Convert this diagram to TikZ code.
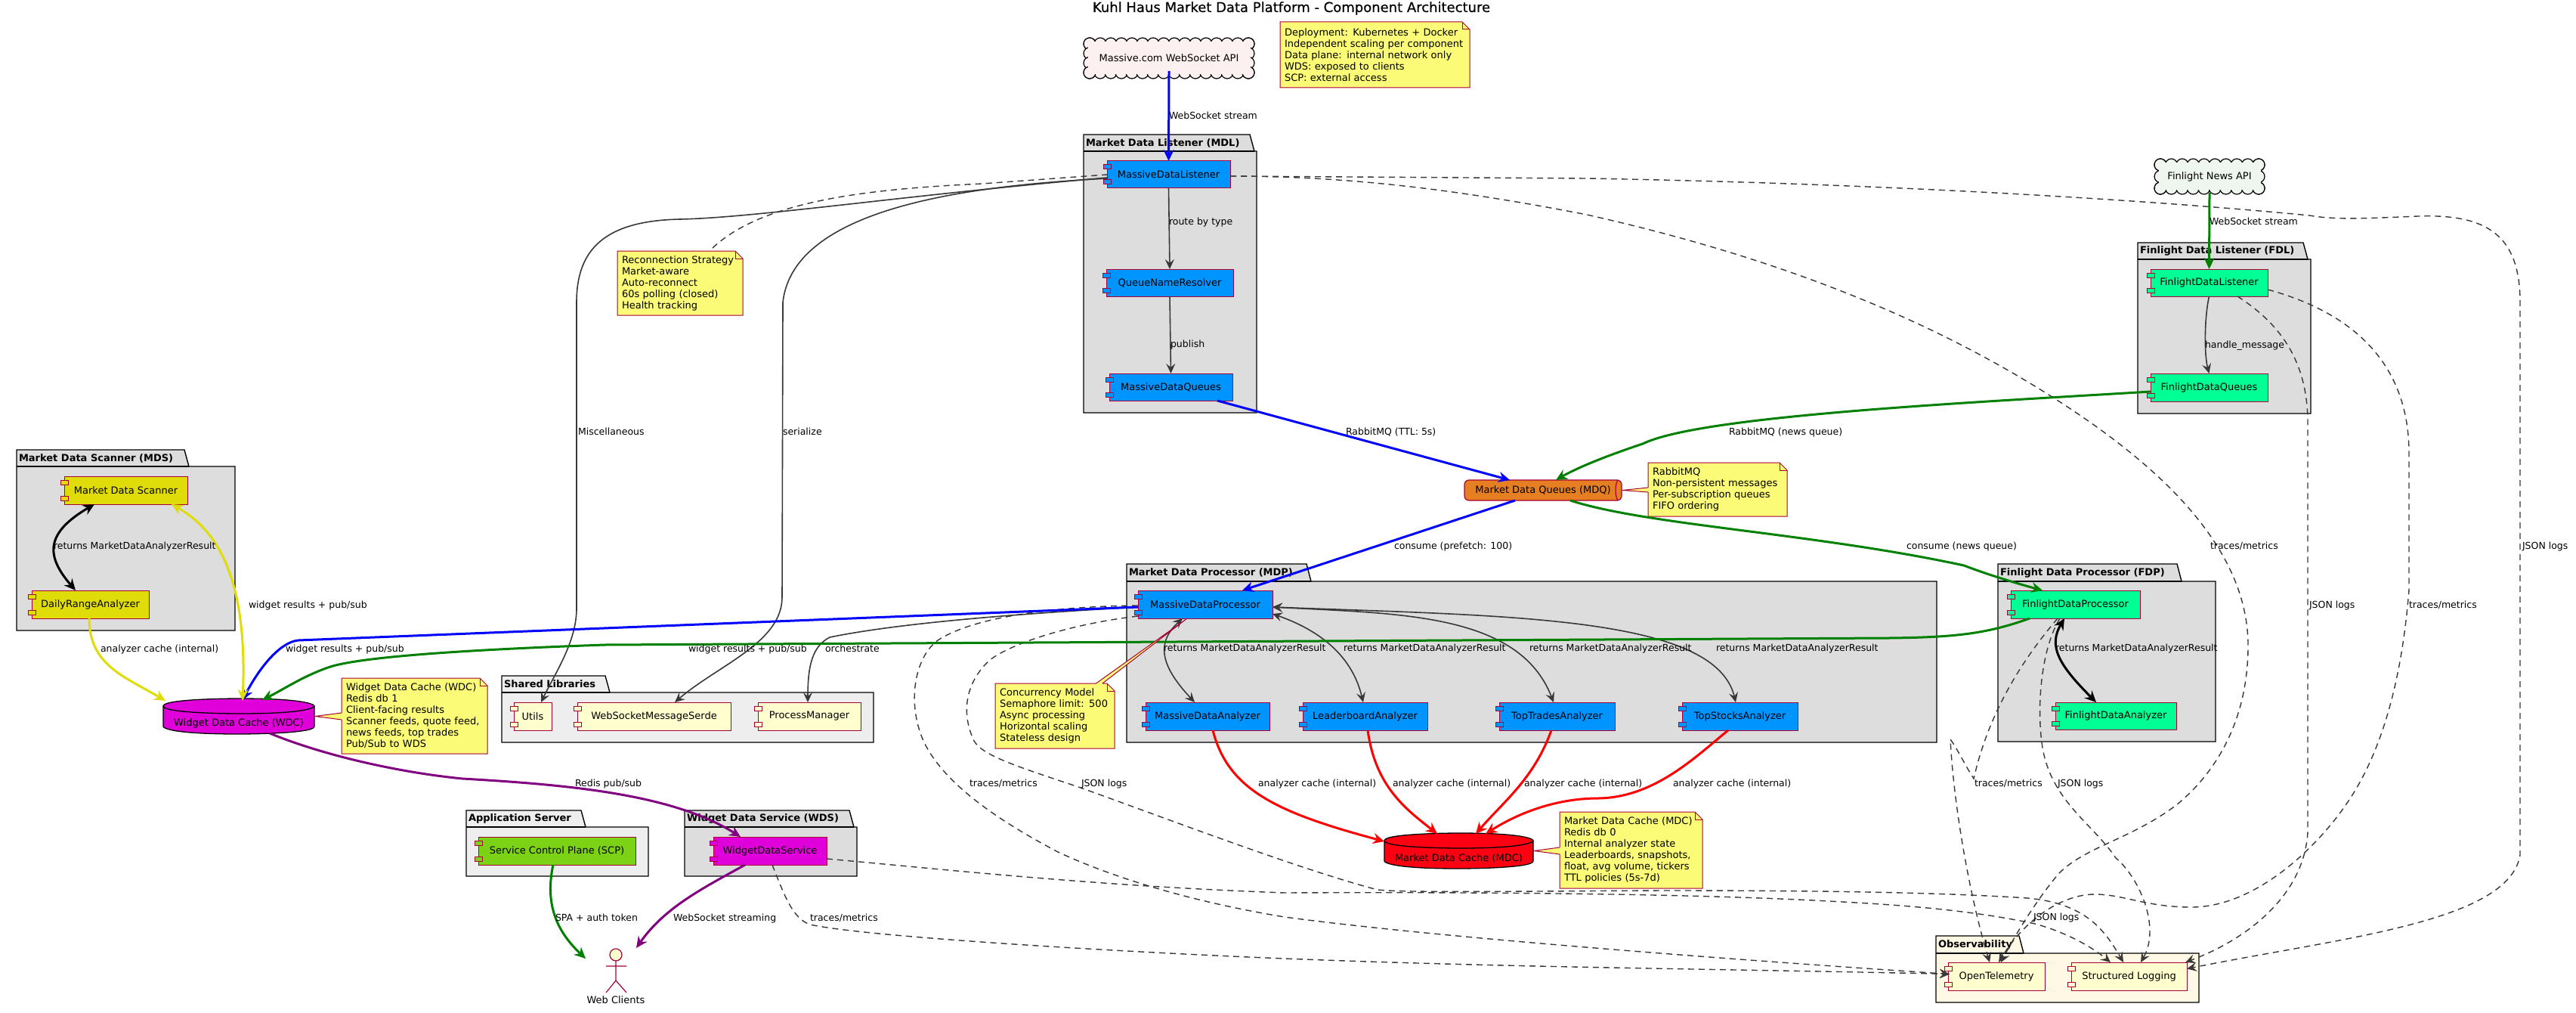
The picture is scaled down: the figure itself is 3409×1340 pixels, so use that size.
\documentclass[tikz,border=0pt]{standalone}
\usepackage{fontspec}
\setmainfont{DejaVu Sans}
\newfontfamily\titlefont{DejaVu Sans}[FakeBold=0.5]
\usetikzlibrary{calc,arrows.meta}
\definecolor{cborder}{HTML}{A80036}
\definecolor{cdark}{HTML}{383838}
\definecolor{cnote}{HTML}{FBFB77}
\definecolor{cdefault}{HTML}{FEFECE}
\definecolor{cblue}{HTML}{0094FF}
\definecolor{cmint}{HTML}{00FF94}
\definecolor{cmag}{HTML}{E000DA}
\definecolor{cyel}{HTML}{E0DC0A}
\definecolor{cgrn}{HTML}{7CD316}
\definecolor{corange}{HTML}{E67E22}
\definecolor{cred}{HTML}{FF0013}
\definecolor{cpkg}{HTML}{DDDDDD}
\definecolor{cpkgl}{HTML}{EEEEEE}
\definecolor{cobs}{HTML}{FEF8E5}
\definecolor{lgreen}{HTML}{008000}
\definecolor{lpurple}{HTML}{800080}
\definecolor{lred}{HTML}{FF0000}
\definecolor{lyel}{HTML}{E0DC0A}
\definecolor{cloudm}{HTML}{FDF0F0}
\definecolor{cloudf}{HTML}{EFF5EF}
\tikzset{
  every node/.style={inner sep=0pt,outer sep=0pt,font=\fontsize{13}{15}\selectfont},
  ah/.tip={Stealth[length=15pt,width=14pt,inset=5pt]},
  ahs/.tip={Stealth[length=13pt,width=12pt,inset=5pt]},
  compbox/.style={draw=cborder,line width=1pt},
  portbox/.style={draw=cborder,line width=1pt},
  notepath/.style={draw=cborder,fill=cnote,line width=1pt},
  notetext/.style={align=left,inner xsep=6pt},
  pkgpath/.style={draw=black,line width=1.4pt},
  pkgtitle/.style={anchor=west,font=\fontsize{13}{15}\selectfont\bfseries},
  lbl/.style={anchor=west,text height=10pt,text depth=3pt,font=\fontsize{12.5}{15}\selectfont},
  thinline/.style={draw=cdark,line width=1.6pt,-{ahs}},
  dashline/.style={draw=cdark,line width=1.4pt,dash pattern=on 8pt off 6pt,-{ahs}},
  heavy/.style={line width=3pt,-{ah}},
  heavyboth/.style={line width=3pt,{ah}-{ah}},
  thinboth/.style={draw=cdark,line width=1.6pt,{ahs}-{ahs}},
}
\newcommand{\comp}[7]{% name x0 y0 x1 y1 fill text
  \node[compbox,fill=#6,minimum width={(#4-#2)*1pt},minimum height={(#5-#3)*1pt}] (#1) at ({(#2+#4)/2},{(#3+#5)/2}) {#7};
  \path[portbox,fill=#6] ({#2-5},{#3+5}) rectangle ({#2+5},{#3+11});
  \path[portbox,fill=#6] ({#2-5},{#5-11}) rectangle ({#2+5},{#5-5});
}
\newcommand{\notebox}[6]{% name x0 y0 x1 y1 text
  \path[notepath] (#2,#3) -- ({#4-10},#3) -- (#4,{#3+10}) -- (#4,#5) -- (#2,#5) -- cycle;
  \draw[draw=cborder,line width=1pt] ({#4-10},#3) -- ({#4-10},{#3+10}) -- (#4,{#3+10});
  \node[notetext,text width={(#4-#2-12)*1pt},minimum height={(#5-#3)*1pt}] (#1) at ({(#2+#4)/2},{(#3+#5)/2}) {#6};
}
\newcommand{\pkgbox}[9]{% name x0 ytab ybody x1 ybot tabx fill title
  \path[pkgpath,fill=#8] (#2,#3) -- (#7,#3) -- ({#7+6},#4) -- (#5,#4) -- (#5,#6) -- (#2,#6) -- cycle;
  \draw[pkgpath] (#2,#4) -- ({#7+6},#4);
  \node[pkgtitle] (#1) at ({#2+3},{(#3+#4)/2}) {#9};
}
\newcommand{\dbcyl}[7]{% name x0 y0 x1 y1 fill text
  \path[draw=black,line width=1.3pt,fill=#6] (#2,{#3+10}) .. controls (#2,#3) and ({(#2+#4)/2},#3) .. ({(#2+#4)/2},#3)
     .. controls (#4,#3) and (#4,{#3+10}) .. (#4,{#3+10}) -- (#4,{#5-10})
     .. controls (#4,#5) and ({(#2+#4)/2},#5) .. ({(#2+#4)/2},#5)
     .. controls (#2,#5) and (#2,{#5-10}) .. (#2,{#5-10}) -- cycle;
  \draw[black,line width=1.3pt] (#2,{#3+10}) .. controls (#2,{#3+20}) and ({(#2+#4)/2},{#3+20}) .. ({(#2+#4)/2},{#3+20})
     .. controls (#4,{#3+20}) and (#4,{#3+10}) .. (#4,{#3+10});
  \node[minimum width={(#4-#2)*1pt},minimum height={(#5-#3)*1pt}] (#1) at ({(#2+#4)/2},{(#3+#5)/2}) {};
  \node (#1t) at ({(#2+#4)/2},{#5-14}) {#7};
}
\newcommand{\notetail}[3]{% tip, base1, base2
  \path[fill=cnote] #1 -- #2 -- #3 -- cycle;
  \draw[cnote,line width=1.6pt] #2 -- #3;
  \draw[cborder,line width=1pt] #2 -- #1 -- #3;
}
\newcommand{\cloudnode}[7]{% name x0 y0 x1 y1 fill text
  \pgfmathsetmacro\cxa{#2+8}\pgfmathsetmacro\cxb{#4-8}
  \pgfmathsetmacro\cya{#3+8}\pgfmathsetmacro\cyb{#5-8}
  \pgfmathtruncatemacro\cnx{round((\cxb-\cxa)/14)}
  \pgfmathtruncatemacro\cny{max(1,round((\cyb-\cya)/14))}
  \foreach \ci in {0,...,\cnx}{
    \pgfmathsetmacro\cpx{\cxa+\ci*(\cxb-\cxa)/\cnx}
    \path[draw=black,line width=1.2pt,fill=#6] (\cpx,\cya) circle[radius=8];
    \path[draw=black,line width=1.2pt,fill=#6] (\cpx,\cyb) circle[radius=8];
  }
  \foreach \cj in {0,...,\cny}{
    \pgfmathsetmacro\cpy{\cya+\cj*(\cyb-\cya)/\cny}
    \path[draw=black,line width=1.2pt,fill=#6] (\cxa,\cpy) circle[radius=8];
    \path[draw=black,line width=1.2pt,fill=#6] (\cxb,\cpy) circle[radius=8];
  }
  \fill[#6] ({\cxa-2.5},{\cya-2.5}) rectangle ({\cxb+2.5},{\cyb+2.5});
  \node[minimum width={(#4-#2)*1pt},minimum height={(#5-#3)*1pt}] (#1) at ({(#2+#4)/2},{(#3+#5)/2}) {#7};
}
\begin{document}
\begin{tikzpicture}[x=1pt,y=-1pt]
\useasboundingbox (0,0) rectangle (3409,1340);
\fill[white] (0,0) rectangle (3409,1340);

\node[font=\titlefont\fontsize{18}{20}\selectfont] (title) at (1709,11) {Kuhl Haus Market Data Platform - Component Architecture};

% packages
\pkgbox{pmdl}{1434}{178}{200}{1663}{546}{1654}{cpkg}{Market Data Listener (MDL)}
\pkgbox{pfdl}{2829}{321}{343}{3058}{547}{3048}{cpkg}{Finlight Data Listener (FDL)}
\pkgbox{pmds}{22}{595}{617}{311}{834}{244}{cpkg}{Market Data Scanner (MDS)}
\pkgbox{pmdp}{1491}{746}{769}{2563}{982}{1729}{cpkg}{Market Data Processor (MDP)}
\pkgbox{pfdp}{2644}{746}{769}{2932}{981}{2881}{cpkg}{Finlight Data Processor (FDP)}
\pkgbox{pshr}{664}{894}{916}{1156}{982}{801}{cpkgl}{Shared Libraries}
\pkgbox{papp}{617}{1072}{1094}{858}{1159}{769}{cpkgl}{Application Server}
\pkgbox{pwds}{906}{1072}{1094}{1134}{1159}{1124}{cpkg}{Widget Data Service (WDS)}
\pkgbox{pobs}{2562}{1238}{1261}{2910}{1326}{2672}{cobs}{Observability}

% clouds
\cloudnode{massiveapi}{1434}{50}{1660}{104}{cloudm}{Massive.com WebSocket API}
\cloudnode{finapi}{2851}{210}{2997}{257}{cloudf}{Finlight News API}

% components
\comp{mdlc}{1465}{213}{1628}{249}{cblue}{MassiveDataListener}
\comp{qnr}{1464}{356}{1632}{392}{cblue}{QueueNameResolver}
\comp{mdqs}{1468}{494}{1631}{530}{cblue}{MassiveDataQueues}
\comp{fdl}{2846}{356}{3001}{392}{cmint}{FinlightDataListener}
\comp{fdqs}{2846}{494}{3001}{531}{cmint}{FinlightDataQueues}
\comp{scanner}{85}{630}{248}{667}{cyel}{Market Data Scanner}
\comp{dra}{42}{781}{197}{818}{cyel}{DailyRangeAnalyzer}
\comp{mdp}{1506}{781}{1684}{818}{cblue}{MassiveDataProcessor}
\comp{mda}{1516}{929}{1680}{966}{cblue}{MassiveDataAnalyzer}
\comp{lba}{1724}{929}{1889}{966}{cblue}{LeaderboardAnalyzer}
\comp{tta}{1984}{929}{2137}{966}{cblue}{TopTradesAnalyzer}
\comp{tsa}{2226}{929}{2379}{966}{cblue}{TopStocksAnalyzer}
\comp{fdp}{2661}{781}{2832}{818}{cmint}{FinlightDataProcessor}
\comp{fda}{2720}{929}{2880}{965}{cmint}{FinlightDataAnalyzer}
\comp{utils}{680}{929}{730}{966}{cdefault}{Utils}
\comp{serde}{764}{929}{967}{966}{cdefault}{WebSocketMessageSerde}
\comp{pman}{1003}{929}{1139}{966}{cdefault}{ProcessManager}
\comp{scp}{633}{1107}{841}{1144}{cgrn}{Service Control Plane (SCP)}
\comp{wdsv}{944}{1107}{1094}{1144}{cmag}{WidgetDataService}
\comp{otel}{2578}{1273}{2706}{1310}{cdefault}{OpenTelemetry}
\comp{slog}{2741}{1273}{2894}{1310}{cdefault}{Structured Logging}

% databases and queue
\dbcyl{wdc}{216}{924}{416}{971}{cmag}{Widget Data Cache (WDC)}
\dbcyl{mdc}{1832}{1102}{2029}{1149}{cred}{Market Data Cache (MDC)}
\path[draw=cborder,line width=1.2pt,fill=corange,rounded corners=6pt] (1938,635) rectangle (2146,662);
\draw[cborder,line width=1.2pt] (2141,635) .. controls (2137,640) and (2137,657) .. (2141,662);
\node[minimum width=208pt,minimum height=27pt] (mdq) at (2042,648.5) {Market Data Queues (MDQ)};

% actor
\node[circle,draw=cborder,fill=cdefault,line width=1.2pt,minimum size=16pt] (clients) at (815,1263) {};
\draw[cborder,line width=1.2pt] (clients.south) -- (815,1297) -- (802,1313) (815,1297) -- (829,1313) (802,1278) -- (829,1278);
\node (clientst) at (815,1323) {Web Clients};

% notes
\notebox{ndep}{1694}{29}{1945}{116}{Deployment: Kubernetes + Docker\\Independent scaling per component\\Data plane: internal network only\\WDS: exposed to clients\\SCP: external access}
\notebox{nrec}{817}{332}{983}{417}{Reconnection Strategy\\Market-aware\\Auto-reconnect\\60s polling (closed)\\Health tracking}
\notebox{nwdc}{452}{897}{645}{997}{Widget Data Cache (WDC)\\Redis db 1\\Client-facing results\\Scanner feeds, quote feed,\\news feeds, top trades\\Pub/Sub to WDS}
\notebox{nmdq}{2181}{612}{2365}{683}{RabbitMQ\\Non-persistent messages\\Per-subscription queues\\FIFO ordering}
\notebox{ncon}{1317}{904}{1475}{990}{Concurrency Model\\Semaphore limit: 500\\Async processing\\Horizontal scaling\\Stateless design}
\notebox{nmdc}{2064}{1074}{2253}{1175}{Market Data Cache (MDC)\\Redis db 0\\Internal analyzer state\\Leaderboards, snapshots,\\float, avg volume, tickers\\TTL policies (5s-7d)}

% dashed connectors
\draw[dashline,-] ($(nrec.north west)+(126,-4)$) .. controls (1010,265) and (1150,250) .. (1300,243) -- (mdlc.west);
\draw[dashline] ($(mdlc.east)+(0,2)$) .. controls (1800,233) and (1950,255) .. (2100,284) .. controls (2350,340) and (2550,420) .. (2714,524) .. controls (2850,610) and (2975,720) .. (2975,854) .. controls (2975,950) and (2935,1020) .. (2880,1065) .. controls (2820,1110) and (2760,1120) .. (2725,1155) .. controls (2695,1190) and (2665,1240) .. ($(otel.north west)+(70,0)$);
\draw[dashline] ($(mdlc.east)+(0,2)$) -- (2100,236) .. controls (2500,243) and (2850,265) .. (3056,285) .. controls (3090,291) and (3130,289) .. (3200,286) .. controls (3290,283) and (3335,310) .. (3335,400) -- (3335,1131) .. controls (3320,1220) and (3100,1240) .. ($(slog.east)+(0,-10)$);
\draw[dashline] ($(fdl.south west)+(115,0)$) .. controls (3020,430) and (3054,480) .. (3054,560) -- (3054,1100) .. controls (3050,1180) and (2980,1240) .. ($(slog.north east)+(-2,0)$);
\draw[dashline] ($(fdl.east)+(0,9)$) .. controls (3100,410) and (3188,470) .. (3188,600) -- (3188,780) .. controls (3180,880) and (3160,970) .. (3120,1040) .. controls (3080,1110) and (2990,1200) .. (2900,1200) .. controls (2840,1200) and (2810,1183) .. (2772,1183) .. controls (2730,1183) and (2680,1215) .. ($(otel.north west)+(67,0)$);
\draw[dashline] ($(fdp.south west)+(62,0)$) .. controls (2670,880) and (2630,950) .. (2612,1030) .. controls (2602,1015) and (2590,990) .. (2581,978) .. controls (2585,1060) and (2605,1180) .. ($(otel.north west)+(55,0)$);
\draw[dashline] ($(fdp.south west)+(65,0)$) .. controls (2700,860) and (2695,940) .. (2703,989) .. controls (2715,1060) and (2770,1090) .. (2800,1135) .. controls (2830,1160) and (2860,1225) .. ($(slog.north west)+(92,0)$);
\draw[dashline] ($(mdp.west)+(0,1.5)$) .. controls (1400,802) and (1290,815) .. (1241,847) .. controls (1210,870) and (1200,930) .. (1222,980) .. controls (1250,1040) and (1330,1090) .. (1400,1127) .. controls (1460,1155) and (1560,1190) .. (1700,1213) .. controls (1900,1240) and (2300,1270) .. ($(otel.west)+(2,-3)$);
\draw[dashline] ($(mdp.west)+(0,15.5)$) .. controls (1420,825) and (1340,850) .. (1310,873) .. controls (1280,900) and (1270,940) .. (1289,980) .. controls (1300,1000) and (1350,1015) .. (1430,1042) .. controls (1550,1085) and (1720,1150) .. (1823,1177) .. controls (1860,1181) and (2000,1179) .. (2200,1178) .. controls (2400,1178) and (2560,1180) .. (2683,1188) .. controls (2760,1195) and (2785,1230) .. ($(slog.north west)+(69,0)$);
\draw[dashline] ($(wdsv.east)+(0,10.5)$) .. controls (1250,1150) and (1450,1172) .. (1700,1181) .. controls (1900,1180) and (2200,1181) .. (2400,1191) .. controls (2500,1196) and (2600,1202) .. (2693,1222) .. controls (2730,1232) and (2765,1250) .. ($(slog.north west)+(52,0)$);
\draw[dashline] ($(wdsv.south west)+(78,0)$) .. controls (1040,1190) and (1050,1215) .. (1072,1223) .. controls (1150,1240) and (1500,1260) .. (1700,1268) .. controls (2000,1280) and (2300,1282) .. ($(otel.west)+(2,-3)$);

% solid dark connectors
\draw[thinline] (mdlc.south) -- (qnr.north);
\draw[thinline] (qnr.south) -- (mdqs.north);
\draw[thinline] (fdl.south) .. controls (2917,420) and (2917,470) .. (fdqs.north);
\draw[thinline] ($(mdlc.west)+(0,4)$) .. controls (1200,258) and (1000,288) .. (900,290) .. controls (800,292) and (763,330) .. (763,400) -- (763,807) .. controls (762,850) and (735,890) .. ($(utils.north west)+(36,0)$);
\draw[thinline] ($(mdlc.west)+(0,5)$) .. controls (1300,245) and (1050,270) .. (1036,400) -- (1035,790) .. controls (1035,850) and (950,880) .. ($(serde.north west)+(129,0)$);
\draw[thinline] ($(mdp.west)+(0,3.5)$) .. controls (1380,810) and (1200,822) .. (1098,843) .. controls (1075,855) and (1069,880) .. ($(pman.north west)+(66,0)$);
\draw[thinboth] ($(mdp.south west)+(59,0)$) .. controls (1530,850) and (1535,880) .. ($(mda.north west)+(65,0)$);
\draw[thinboth] ($(mdp.east)+(0,12.5)$) .. controls (1750,835) and (1790,870) .. ($(lba.north west)+(80,0)$);
\draw[thinboth] ($(mdp.east)+(0,3.5)$) .. controls (1850,812) and (2010,810) .. ($(tta.north west)+(72,0)$);
\draw[thinboth] ($(mdp.east)+(0,3.5)$) .. controls (2000,815) and (2270,815) .. ($(tsa.north west)+(71,0)$);

% heavy connectors
\draw[heavy,blue] ($(massiveapi.south)+(0,-10)$) -- (mdlc.north);
\draw[heavy,lgreen] ($(finapi.south)+(0,-2)$) -- (fdl.north);
\draw[heavy,blue] ($(mdqs.south east)+(-20,0)$) -- ($(mdq.north west)+(60,0)$);
\draw[heavy,blue] ($(mdq.south west)+(67,0)$) -- ($(mdp.north west)+(138,0)$);
\draw[heavy,lgreen] ($(fdqs.west)+(0,5.5)$) .. controls (2600,533) and (2250,550) .. (2174,587) .. controls (2120,605) and (2085,620) .. ($(mdq.north west)+(121,0)$);
\draw[heavy,lgreen] ($(mdq.south west)+(140,0)$) .. controls (2180,695) and (2400,705) .. (2599,748) .. controls (2630,760) and (2670,772) .. ($(fdp.north west)+(42,0)$);
\draw[heavy,blue] ($(mdp.west)+(0,3.5)$) -- (395,847) .. controls (372,849) and (345,880) .. ($(wdc.north)+(5,2)$);
\draw[heavy,lgreen] ($(fdp.south west)+(25,0)$) .. controls (2630,838) and (2590,843) .. (2500,844) -- (800,853) .. controls (600,860) and (470,870) .. (434,883) .. controls (400,895) and (375,912) .. ($(wdc.north)+(31,2)$);
\draw[heavyboth,lyel] ($(scanner.south west)+(142,0)$) .. controls (285,700) and (328,760) .. ($(wdc.north)+(5,3)$);
\draw[heavy,lyel] ($(dra.south west)+(76,0)$) .. controls (118,880) and (165,895) .. ($(wdc.north west)+(3,3)$);
\draw[heavyboth,black] ($(scanner.south west)+(40,0)$) .. controls (60,705) and (60,735) .. ($(dra.north west)+(58,0)$);
\draw[heavyboth,black] ($(fdp.south west)+(71,0)$) .. controls (2710,855) and (2725,880) .. ($(fda.north west)+(54,0)$);
\draw[heavy,lpurple] ($(wdc.south)+(41,-1)$) .. controls (430,1000) and (530,1022) .. (612,1030) .. controls (750,1038) and (890,1050) .. ($(wdsv.north west)+(36,0)$);
\draw[heavy,lpurple] ($(wdsv.south west)+(42,0)$) .. controls (930,1175) and (880,1200) .. ($(clients)+(27,-9)$);
\draw[heavy,lgreen] ($(scp.south west)+(99,0)$) .. controls (720,1200) and (740,1235) .. ($(clients)+(-40,5)$);
\draw[heavy,lred] ($(mda.south west)+(89,0)$) .. controls (1625,1045) and (1690,1075) .. ($(mdc.north west)+(0,11)$);
\draw[heavy,lred] ($(lba.south west)+(86,0)$) .. controls (1820,1040) and (1860,1070) .. ($(mdc.north west)+(70,1)$);
\draw[heavy,lred] ($(tta.south west)+(69,0)$) .. controls (2030,1030) and (1990,1060) .. ($(mdc.north west)+(121,1)$);
\draw[heavy,lred] ($(tsa.south west)+(61,0)$) .. controls (2245,1000) and (2190,1055) .. (2115,1056) .. controls (2060,1056) and (2010,1075) .. ($(mdc.north west)+(134,1)$);

% note tails
\notetail{($(wdc.east)+(1,0)$)}{($(nwdc.west)+(0,-4)$)}{($(nwdc.west)+(0,5)$)}
\notetail{($(mdc.east)+(1,0)$)}{($(nmdc.west)+(0,-3.5)$)}{($(nmdc.west)+(0,5.5)$)}
\notetail{($(mdq.east)+(1,0)$)}{($(nmdq.west)+(0,-2.5)$)}{($(nmdq.west)+(0,3.5)$)}
\notetail{($(mdp.south west)+(65,0)$)}{($(ncon.north west)+(133.5,0)$)}{($(ncon.north west)+(142,0)$)}

% connector labels
\foreach \nm/\lx/\ly/\tx in {
 a1/1547/154/WebSocket stream, a2/1547/294/route by type, a3/1549/456/publish,
 a4/2924/294/WebSocket stream, a5/2918/457/handle\_message,
 a6/1781/572/RabbitMQ (TTL: 5s), a7/2288/572/RabbitMQ (news queue),
 a8/765/572/Miscellaneous, a9/1036/572/serialize,
 b1/1845/723/consume (prefetch: 100), b2/2523/723/consume (news queue),
 b3/2925/723/traces{/}metrics, b4/3338/723/JSON logs,
 b5/71/723/returns MarketDataAnalyzerResult,
 b6/329/801/widget results + pub{/}sub, b7/3056/801/JSON logs, b8/3188/801/traces{/}metrics,
 c1/1540/858/returns MarketDataAnalyzerResult, c2/1778/858/returns MarketDataAnalyzerResult,
 c3/2024/858/returns MarketDataAnalyzerResult, c4/2271/858/returns MarketDataAnalyzerResult,
 c5/2720/858/returns MarketDataAnalyzerResult,
 c6/133/859/analyzer cache (internal), c7/378/859/widget results + pub{/}sub,
 c8/911/859/widget results + pub{/}sub, c9/1092/859/orchestrate,
 d1/1665/1037/analyzer cache (internal), d2/1843/1037/analyzer cache (internal),
 d3/2017/1037/analyzer cache (internal), d4/2214/1037/analyzer cache (internal),
 d5/1283/1037/traces{/}metrics, d6/1431/1037/JSON logs, d7/2613/1037/traces{/}metrics,
 d8/2723/1037/JSON logs, d9/761/1037/Redis pub{/}sub,
 e1/735/1215/SPA + auth token, e2/891/1215/WebSocket streaming,
 e3/1072/1215/traces{/}metrics, e4/2691/1214/JSON logs}
 {\node[lbl] (\nm) at (\lx,\ly) {\tx};}
\end{tikzpicture}
\end{document}
